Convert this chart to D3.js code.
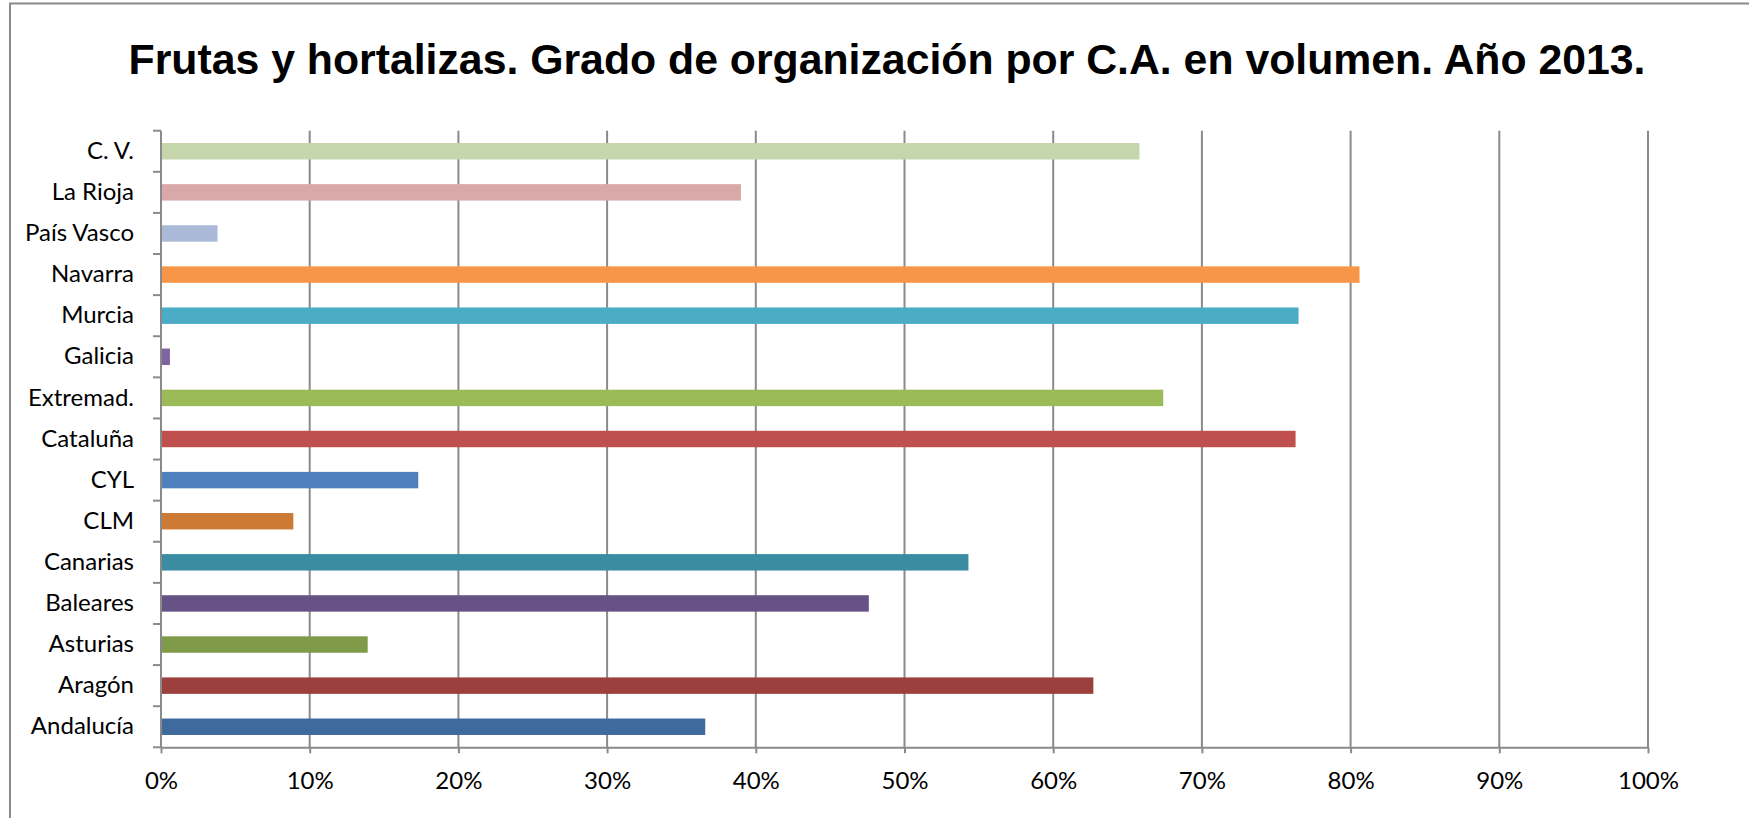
<!DOCTYPE html>
<html>
<head>
<meta charset="utf-8">
<script src="https://cdn.jsdelivr.net/npm/d3@7"></script>
<style>
  html, body { margin: 0; padding: 0; background: #fff; }
  svg { display: block; }
</style>
</head>
<body>
<div id="chart"></div>
<script>
// categories bottom -> top as in the chart
const regions = ['Andalucía', 'Aragón', 'Asturias', 'Baleares', 'Canarias', 'CLM', 'CYL',
  'Cataluña', 'Extremad.', 'Galicia', 'Murcia', 'Navarra', 'País Vasco', 'La Rioja', 'C. V.'];
const shares = [0.366, 0.627, 0.139, 0.476, 0.543, 0.089, 0.173,
  0.763, 0.674, 0.006, 0.765, 0.806, 0.038, 0.390, 0.658];
const barColors = ['#3F6A9E', '#9C403D', '#7F9B4A', '#675286', '#3A8CA3', '#CC7A35', '#4F80BD',
  '#C0504D', '#9BBB59', '#8064A2', '#4BACC6', '#F79646', '#AAB9D7', '#D9A9A9', '#C5D6AC'];
const xTicks = [0, 0.1, 0.2, 0.3, 0.4, 0.5, 0.6, 0.7, 0.8, 0.9, 1];
const title = 'Frutas y hortalizas. Grado de organización por C.A. en volumen. Año 2013.';

const W = 1749, H = 818;
const plot = { left: 161, right: 1648, top: 130.7, bottom: 747.3 };
const gridColor = '#8a8a8a';

const svg = d3.select('#chart').append('svg')
  .attr('width', W).attr('height', H);

// outer chart frame (runs off the right/bottom edge)
svg.append('rect')
  .attr('x', 10).attr('y', 3.5)
  .attr('width', W + 20).attr('height', H + 20)
  .attr('fill', '#fff')
  .attr('stroke', gridColor).attr('stroke-width', 2);

// title, sized to span the same width as the original
const titleEl = svg.append('text')
  .attr('x', 887).attr('y', 74)
  .attr('text-anchor', 'middle')
  .style('font-family', '"Liberation Sans", Arial, sans-serif')
  .style('font-weight', 'bold')
  .style('font-size', '44px')
  .attr('fill', '#000')
  .text(title);
const tw = titleEl.node().getComputedTextLength();
titleEl.style('font-size', (44 * 1517 / tw).toFixed(2) + 'px');

const x = d3.scaleLinear().domain([0, 1]).range([plot.left, plot.right]);
const y = d3.scaleBand()
  .domain(regions.slice().reverse())
  .range([plot.top, plot.bottom])
  .paddingInner(0.6)
  .paddingOuter(0.3);

// vertical gridlines
svg.append('g').selectAll('line')
  .data(xTicks.slice(1))
  .join('line')
  .attr('x1', d => x(d)).attr('x2', d => x(d))
  .attr('y1', plot.top).attr('y2', plot.bottom)
  .attr('stroke', gridColor).attr('stroke-width', 2);

// bars
svg.append('g').selectAll('rect')
  .data(regions)
  .join('rect')
  .attr('x', x(0))
  .attr('y', d => y(d))
  .attr('width', (d, i) => x(shares[i]) - x(0))
  .attr('height', y.bandwidth())
  .attr('fill', (d, i) => barColors[i]);

const labelFont = 'Lato, "Open Sans", sans-serif';

// x axis
const xAxis = svg.append('g')
  .attr('transform', `translate(0,${plot.bottom})`)
  .call(d3.axisBottom(x).tickValues(xTicks).tickFormat(d3.format('.0%')).tickSize(6).tickSizeOuter(0));
xAxis.select('.domain').attr('stroke', gridColor).attr('stroke-width', 2);
xAxis.selectAll('.tick line').attr('stroke', gridColor).attr('stroke-width', 2);
xAxis.selectAll('.tick text')
  .attr('y', 42).attr('dy', 0)
  .attr('fill', '#000')
  .style('font-family', labelFont)
  .style('font-size', '24px');

// y axis: labels centred on bands, ticks on band boundaries
const yAxis = svg.append('g')
  .attr('transform', `translate(${plot.left},0)`)
  .call(d3.axisLeft(y).tickSize(0).tickPadding(27));
yAxis.select('.domain').remove();
yAxis.selectAll('.tick text')
  .attr('fill', '#000')
  .style('font-family', labelFont)
  .style('font-size', '24px');

const step = y.step();
const bounds = d3.range(regions.length + 1).map(i => plot.top + i * step);
svg.append('g').selectAll('line')
  .data(bounds)
  .join('line')
  .attr('x1', plot.left - 8).attr('x2', plot.left)
  .attr('y1', d => d).attr('y2', d => d)
  .attr('stroke', gridColor).attr('stroke-width', 2);
svg.append('line')
  .attr('x1', plot.left).attr('x2', plot.left)
  .attr('y1', plot.top).attr('y2', plot.bottom)
  .attr('stroke', gridColor).attr('stroke-width', 2);
</script>
</body>
</html>
